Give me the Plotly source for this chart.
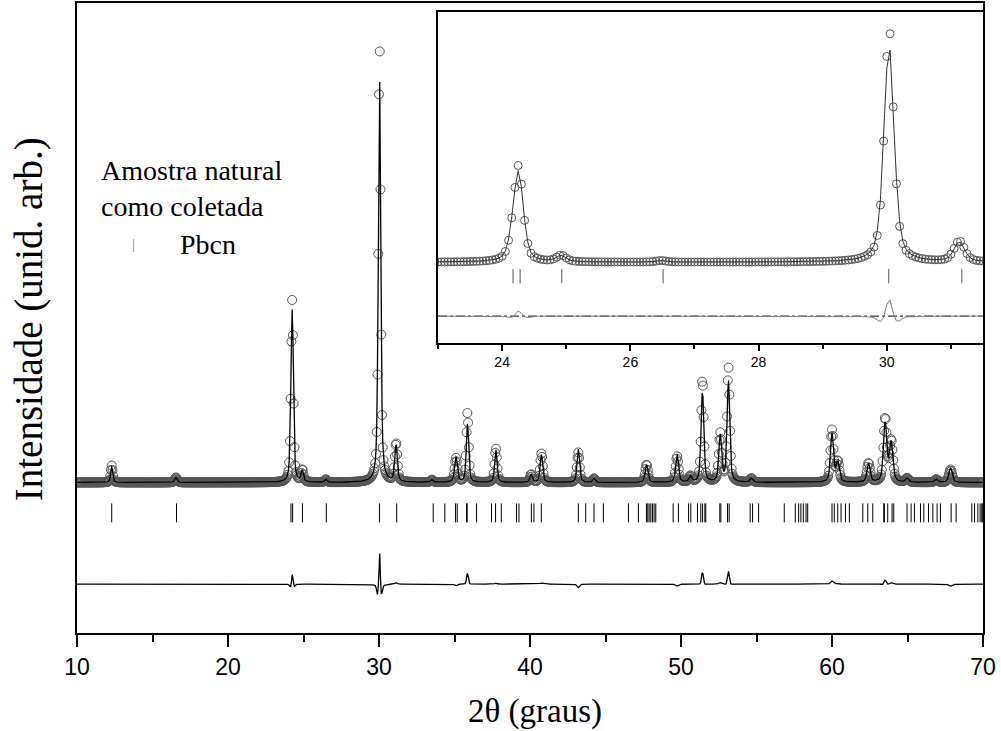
import numpy as np
import plotly.graph_objects as go

# ---- data ----
# reflections seen in the pattern: centre (2theta, deg), observed height, calculated height, FWHM (deg)
peak_pos  = [12.30, 16.55, 24.17, 24.26, 24.92, 26.48, 30.035, 31.13, 33.50, 35.10, 35.86, 37.74,
             40.08, 40.76, 43.20, 44.24, 47.72, 49.74, 50.62, 51.42, 52.60, 53.14, 54.66,
             60.00, 60.38, 62.42, 63.52, 63.92, 64.97, 66.90, 67.85]
peak_obs  = [170, 50, 300, 1700, 120, 30, 4430, 390, 25, 240, 700, 340,
             80, 290, 300, 40, 180, 260, 60, 1040, 480, 1150, 40,
             520, 200, 190, 640, 410, 40, 30, 130]
peak_calc = [165, 50, 300, 1600, 115, 30, 4100, 375, 25, 255, 590, 330,
             80, 280, 335, 40, 175, 280, 60, 920, 465, 1020, 40,
             490, 195, 185, 600, 395, 40, 30, 150]
fwhm_obs  = [0.16, 0.20, 0.16, 0.165, 0.18, 0.18, 0.175, 0.20, 0.2, 0.22, 0.18, 0.19,
             0.2, 0.2, 0.2, 0.2, 0.22, 0.22, 0.22, 0.2, 0.22, 0.2, 0.22,
             0.24, 0.25, 0.25, 0.25, 0.26, 0.25, 0.25, 0.26]
fwhm_calc = [0.16, 0.20, 0.16, 0.175, 0.18, 0.18, 0.19, 0.20, 0.2, 0.22, 0.19, 0.19,
             0.2, 0.2, 0.2, 0.2, 0.22, 0.22, 0.22, 0.21, 0.22, 0.21, 0.22,
             0.24, 0.25, 0.25, 0.26, 0.26, 0.25, 0.25, 0.26]
background = 400
step = 0.05
two_theta_min, two_theta_max = 10.0, 70.0

# Bragg reflection positions of Pbcn (2theta, deg)
bragg_pos = [12.30, 16.59, 24.17, 24.28, 24.93, 26.51, 30.03, 31.17, 33.59, 34.36, 35.07, 35.18,
             35.80, 35.84, 36.46, 37.45, 37.72, 38.10, 39.11, 39.27, 40.09, 40.26, 40.75,
             43.20, 43.69, 44.24, 44.86, 46.52, 47.18, 47.71, 47.80, 47.89, 48.00, 48.11,
             48.22, 48.33, 49.48, 49.83, 50.50, 50.65, 51.09, 51.31, 51.43, 51.58, 51.64,
             52.57, 52.64, 53.08, 53.19, 54.58, 54.74, 55.14, 56.84, 57.57, 57.79, 57.94,
             58.10, 58.28, 58.39, 60.00, 60.15, 60.38, 60.60, 60.89, 61.15, 62.04, 62.37,
             62.70, 63.43, 63.47, 63.69, 63.98, 64.09, 64.97, 65.24, 65.46, 65.86, 66.08,
             66.39, 66.68, 66.96, 67.18, 67.89, 68.22, 69.26, 69.44, 69.66, 69.81, 69.92, 69.98]

x_ticks_main = [10, 20, 30, 40, 50, 60, 70]
x_ticks_inset = [24, 26, 28, 30]
inset_range = [23.0, 31.5]

# ---- profiles built from the reflection table ----
tt = np.round(np.arange(two_theta_min, two_theta_max + 1e-6, step), 3)

def pseudo_voigt(x, c, h, w, eta=0.5):
    d = (x - c) / w
    return h * (eta / (1 + 4 * d * d) + (1 - eta) * np.exp(-4 * np.log(2) * d * d))

y_obs = np.full_like(tt, background, dtype=float)
y_calc = np.full_like(tt, background, dtype=float)
for c, ho, hc, wo, wc in zip(peak_pos, peak_obs, peak_calc, fwhm_obs, fwhm_calc):
    y_obs += pseudo_voigt(tt, c, ho, wo)
    y_calc += pseudo_voigt(tt, c, hc, wc)

diff_offset = -620
y_diff = y_obs - y_calc + diff_offset

def tick_segments(positions, lo, hi):
    xs, ys = [], []
    for p in positions:
        xs += [p, p, None]
        ys += [lo, hi, None]
    return xs, ys

bx_main, by_main = tick_segments(bragg_pos, 0, 190)
inset_bragg = [p for p in bragg_pos if inset_range[0] <= p <= inset_range[1]]
bx_in, by_in = tick_segments(inset_bragg, 0, 270)

m_in = (tt >= inset_range[0] - 0.1) & (tt <= inset_range[1] + 0.1)

fig = go.Figure()

# main plot
fig.add_trace(go.Scatter(x=tt, y=y_obs, mode="markers",
                         marker=dict(symbol="circle-open", size=9, color="#555555", line=dict(width=1)),
                         xaxis="x", yaxis="y", showlegend=False))
fig.add_trace(go.Scatter(x=tt, y=y_calc, mode="lines", line=dict(color="black", width=1.3),
                         xaxis="x", yaxis="y", showlegend=False))
fig.add_trace(go.Scatter(x=bx_main, y=by_main, mode="lines", line=dict(color="black", width=1),
                         xaxis="x", yaxis="y", showlegend=False))
fig.add_trace(go.Scatter(x=tt, y=y_diff, mode="lines", line=dict(color="black", width=1.3),
                         xaxis="x", yaxis="y", showlegend=False))

# inset
fig.add_trace(go.Scatter(x=tt[m_in], y=y_obs[m_in], mode="markers",
                         marker=dict(symbol="circle-open", size=8, color="#555555", line=dict(width=1)),
                         xaxis="x2", yaxis="y2", showlegend=False))
fig.add_trace(go.Scatter(x=tt[m_in], y=y_calc[m_in], mode="lines", line=dict(color="#333333", width=1),
                         xaxis="x2", yaxis="y2", showlegend=False))
fig.add_trace(go.Scatter(x=bx_in, y=by_in, mode="lines", line=dict(color="#555555", width=1),
                         xaxis="x2", yaxis="y2", showlegend=False))
fig.add_trace(go.Scatter(x=inset_range, y=[diff_offset, diff_offset], mode="lines",
                         line=dict(color="black", width=1, dash="dashdot"),
                         xaxis="x2", yaxis="y2", showlegend=False))
fig.add_trace(go.Scatter(x=tt[m_in], y=y_diff[m_in], mode="lines", line=dict(color="#808080", width=1),
                         xaxis="x2", yaxis="y2", showlegend=False))

serif = "Liberation Serif, Times New Roman, serif"
sans = "Liberation Sans, Arial, sans-serif"

fig.update_layout(
    width=1001, height=731, autosize=False,
    margin=dict(l=77, r=18, t=1, b=98),
    paper_bgcolor="white", plot_bgcolor="white",
    xaxis=dict(domain=[0, 1], range=[two_theta_min, two_theta_max], tickvals=x_ticks_main,
               ticks="outside", ticklen=12, tickwidth=2, tickcolor="black",
               minor=dict(dtick=5, ticks="outside", ticklen=7, tickwidth=2, tickcolor="black"),
               showline=True, linewidth=2, linecolor="black", mirror=True,
               showgrid=False, zeroline=False,
               tickfont=dict(family=sans, size=23, color="black"), anchor="y"),
    yaxis=dict(domain=[0, 1], range=[-1110, 5210], showticklabels=False, ticks="",
               showline=True, linewidth=2, linecolor="black", mirror=True,
               showgrid=False, zeroline=False, anchor="x"),
    xaxis2=dict(domain=[0.3985, 1.0], range=inset_range, tickvals=x_ticks_inset,
                ticks="outside", ticklen=6, tickwidth=1.5, tickcolor="black",
                minor=dict(dtick=1, ticks="outside", ticklen=4, tickwidth=1.5, tickcolor="black"),
                showline=True, linewidth=1.5, linecolor="black", mirror=True,
                showgrid=False, zeroline=False,
                tickfont=dict(family=sans, size=14, color="black"),
                anchor="y2"),
    yaxis2=dict(domain=[0.4604, 0.9858], range=[-1128, 5136], showticklabels=False, ticks="",
                showline=True, linewidth=1.5, linecolor="black", mirror=True,
                showgrid=False, zeroline=False, anchor="x2"),
    annotations=[
        dict(text="Amostra natural", xref="paper", yref="paper", x=0.0243, y=0.734,
             xanchor="left", yanchor="middle", showarrow=False,
             font=dict(family=serif, size=28, color="black")),
        dict(text="como coletada", xref="paper", yref="paper", x=0.0243, y=0.677,
             xanchor="left", yanchor="middle", showarrow=False,
             font=dict(family=serif, size=28, color="black")),
        dict(text="|", xref="paper", yref="paper", x=0.0629, y=0.617,
             xanchor="center", yanchor="middle", showarrow=False,
             font=dict(family=serif, size=15, color="#808080")),
        dict(text="Pbcn", xref="paper", yref="paper", x=0.1115, y=0.617,
             xanchor="left", yanchor="middle", showarrow=False,
             font=dict(family=serif, size=28, color="black")),
        dict(text="2θ (graus)", xref="paper", yref="paper", x=0.505, y=-0.125,
             xanchor="center", yanchor="middle", showarrow=False,
             font=dict(family=serif, size=33, color="black")),
        dict(text="Intensidade (unid. arb.)", xref="paper", yref="paper", x=-0.053, y=0.498,
             xanchor="center", yanchor="middle", showarrow=False, textangle=-90,
             font=dict(family=serif, size=39, color="black")),
    ],
)

fig.write_html("out.html")
